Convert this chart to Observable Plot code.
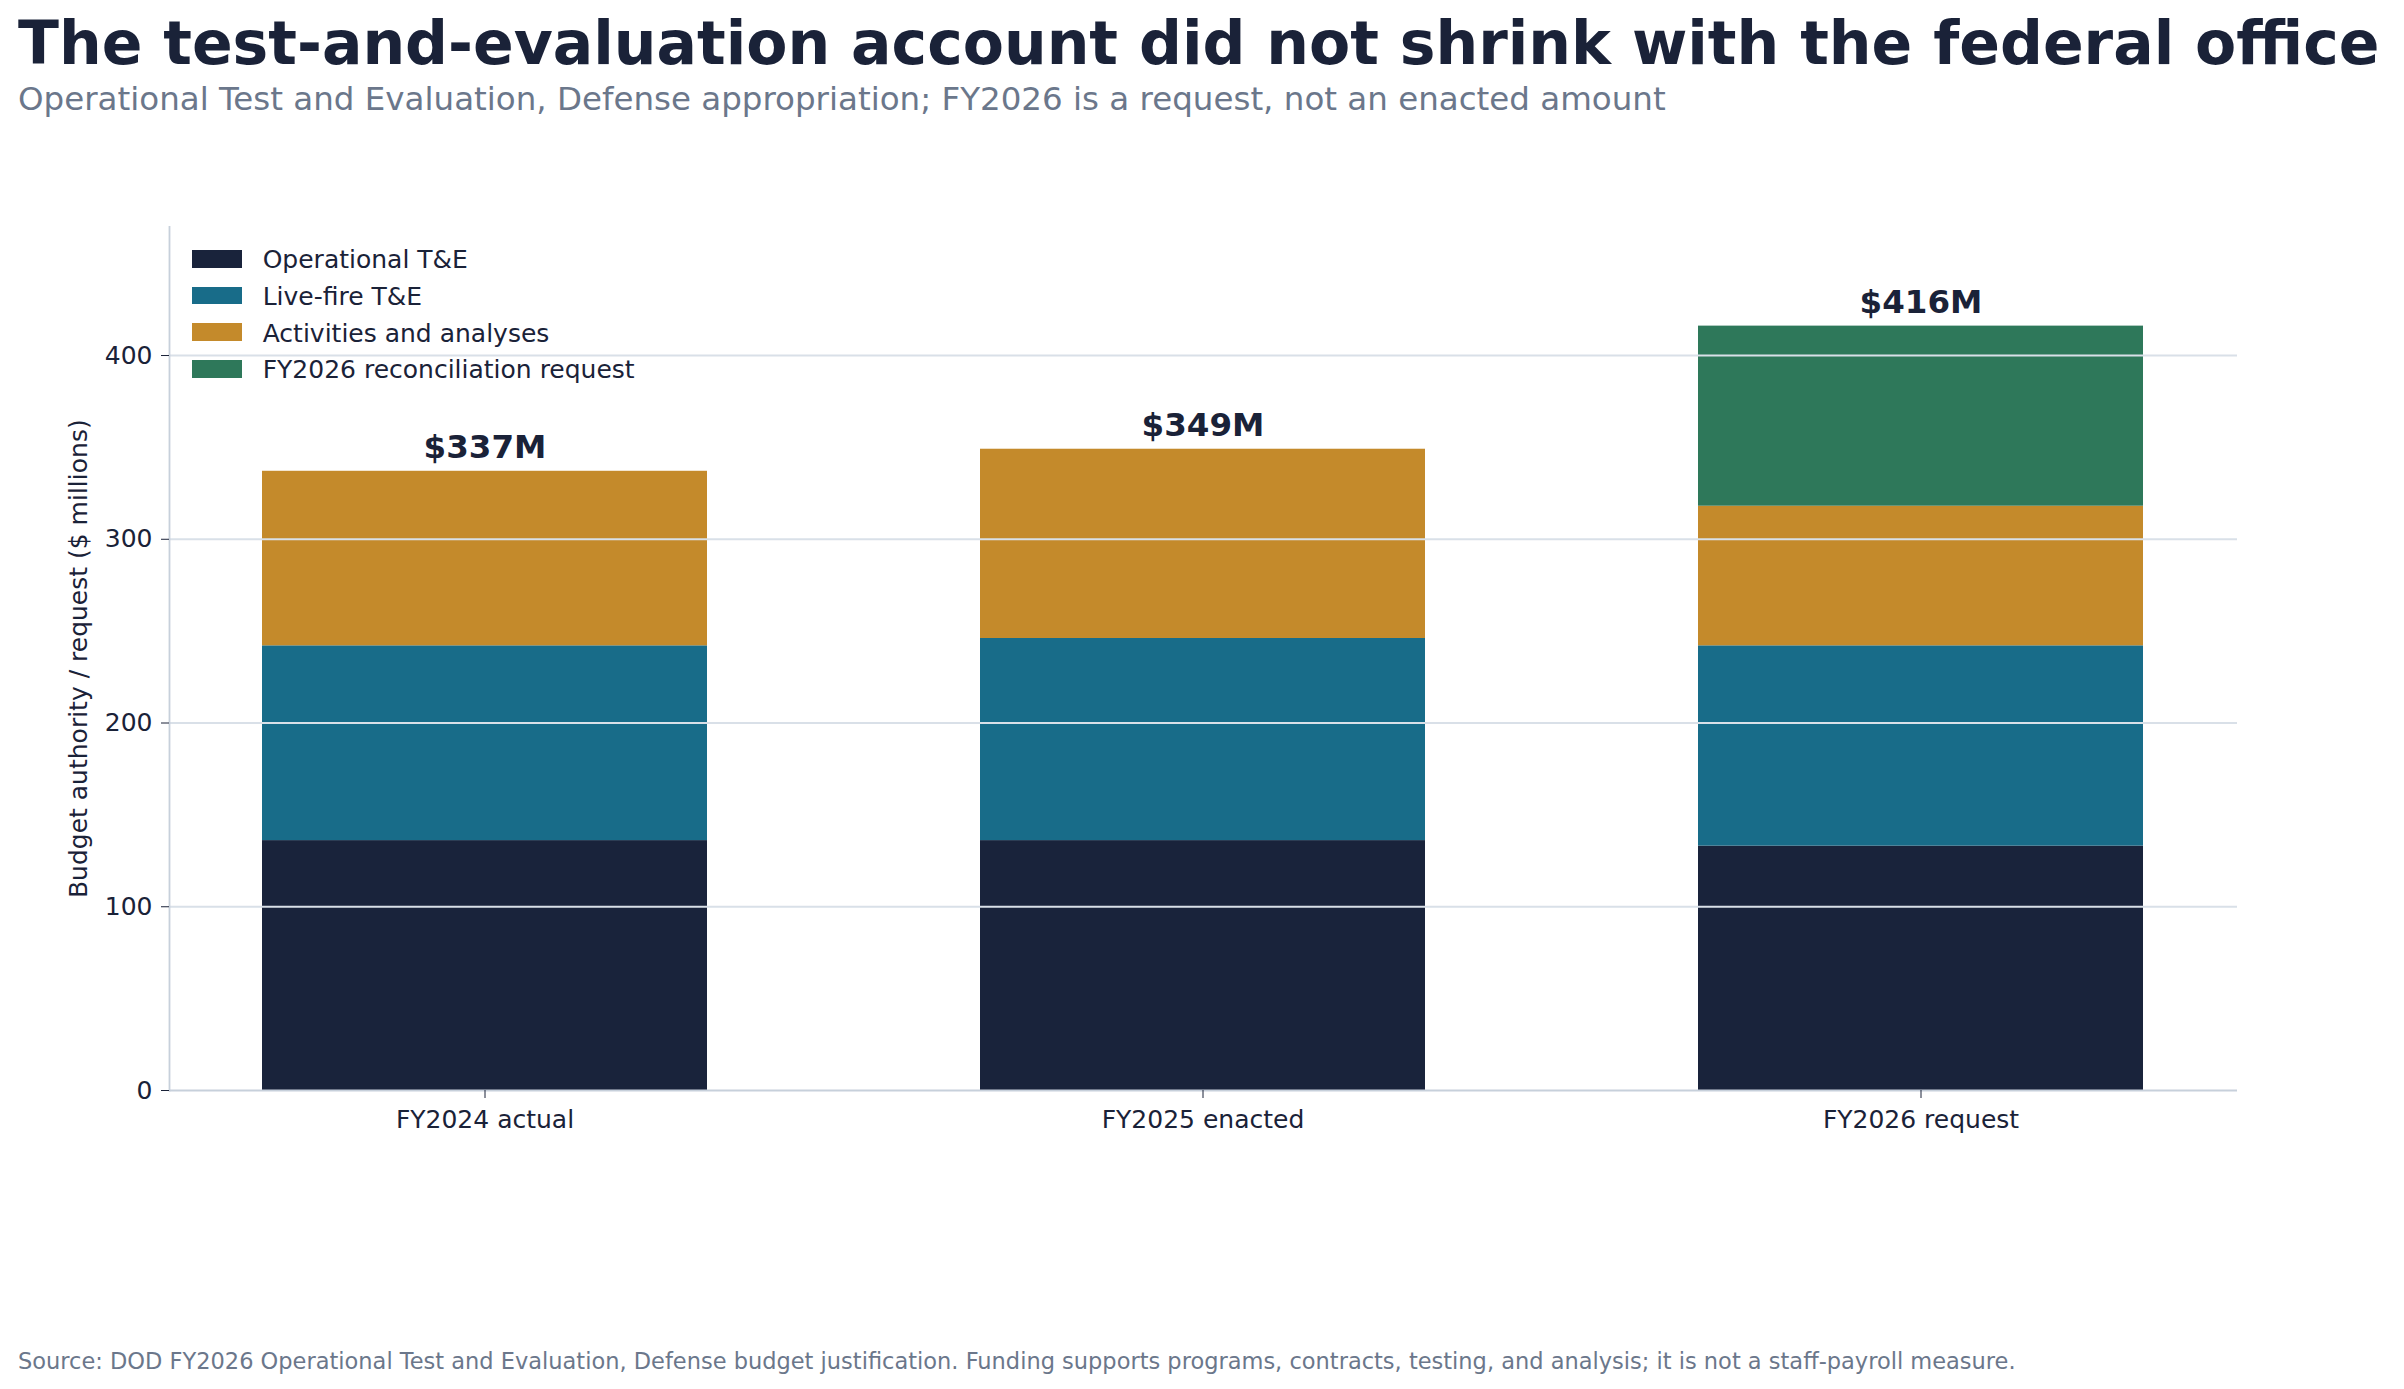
<!DOCTYPE html>
<html>
<head>
<meta charset="utf-8">
<script src="https://cdn.jsdelivr.net/npm/d3@7"></script>
<script src="https://cdn.jsdelivr.net/npm/@observablehq/plot@0.6"></script>
<style>
  html, body { margin: 0; padding: 0; background: #ffffff; }
  body { font-family: "DejaVu Sans", sans-serif; }
  #page { position: relative; width: 2404px; height: 1389px; overflow: hidden; background: #fff; }
  #title { position: absolute; left: 18px; top: 12.5px; font-size: 60px; font-weight: bold; line-height: 1; color: #1a2238; white-space: nowrap; }
  #subtitle { position: absolute; left: 18px; top: 83px; font-size: 32.5px; line-height: 1; color: #6b778b; white-space: nowrap; }
  #chart { position: absolute; left: 0; top: 150px; }
  #legend { position: absolute; left: 0; top: 0; }
  .sw { position: absolute; left: 192px; width: 50px; height: 17.7px; }
  .lt { position: absolute; left: 262.7px; font-size: 25px; line-height: 1; color: #1a2238; white-space: nowrap; }
  #caption { position: absolute; left: 18px; top: 1349.5px; font-size: 22.5px; line-height: 1; color: #6b778b; white-space: nowrap; }
</style>
</head>
<body>
<div id="page">
  <div id="title"></div>
  <div id="subtitle"></div>
  <div id="chart"></div>
  <div id="legend"></div>
  <div id="caption"></div>
</div>
<script>
// ---- Data ----
const years = ["FY2024 actual", "FY2025 enacted", "FY2026 request"];
const seriesNames = ["Operational T&E", "Live-fire T&E", "Activities and analyses", "FY2026 reconciliation request"];
const operational = [136, 136, 133];
const liveFire = [106, 110, 109];
const activities = [95, 103, 76];
const reconciliation = [0, 0, 98];
const seriesColors = ["#19233b", "#186c89", "#c48a2b", "#2e785a"];
const yTicks = [0, 100, 200, 300, 400];
const yMax = 470;

const titleText = "The test-and-evaluation account did not shrink with the federal office";
const subtitleText = "Operational Test and Evaluation, Defense appropriation; FY2026 is a request, not an enacted amount";
const yLabel = "Budget authority / request ($ millions)";
const captionText = "Source: DOD FY2026 Operational Test and Evaluation, Defense budget justification. Funding supports programs, contracts, testing, and analysis; it is not a staff-payroll measure.";

// ---- Build table ----
const seriesValues = [operational, liveFire, activities, reconciliation];
const rows = [];
years.forEach((yr, i) => {
  seriesNames.forEach((s, j) => {
    const v = seriesValues[j][i];
    if (v > 0) rows.push({year: yr, series: s, value: v});
  });
});
const totals = years.map((yr, i) => ({
  year: yr,
  total: seriesValues.reduce((acc, arr) => acc + arr[i], 0)
}));

document.getElementById("title").textContent = titleText;
document.getElementById("subtitle").textContent = subtitleText;
document.getElementById("caption").textContent = captionText;

const ink = "#1a2238";
const spine = "#c7d0db";
const grid = "#d9e0e8";

const chart = Plot.plot({
  width: 2404,
  height: 1050,
  marginTop: 76.4,
  marginBottom: 110,
  marginLeft: 169,
  marginRight: 167,
  style: {fontFamily: "DejaVu Sans", fontSize: "25px", color: ink, background: "transparent"},
  x: {domain: years, paddingInner: 0.38, paddingOuter: 0.13, align: 0.5},
  y: {domain: [0, yMax]},
  color: {domain: seriesNames, range: seriesColors},
  marks: [
    Plot.barY(rows, Plot.stackY({
      x: "year",
      y: "value",
      fill: "series",
      order: seriesNames
    })),
    Plot.ruleY(yTicks.filter(d => d > 0), {stroke: grid, strokeWidth: 2}),
    Plot.ruleY([0], {stroke: spine, strokeWidth: 1.8}),
    Plot.frame({anchor: "left", stroke: spine, strokeWidth: 1.8}),
    Plot.axisY({
      ticks: yTicks,
      tickSize: 8,
      tickPadding: 9,
      color: ink,
      fontSize: 25,
      label: yLabel,
      labelAnchor: "center",
      labelArrow: "none",
      labelOffset: 100
    }),
    Plot.axisX({
      tickSize: 8,
      tickPadding: 12,
      color: ink,
      fontSize: 25,
      label: null
    }),
    Plot.text(totals, {
      x: "year",
      y: "total",
      text: d => `$${d.total}M`,
      lineAnchor: "bottom",
      dy: -13.5,
      fontSize: 32.5,
      fontWeight: "bold",
      fill: ink
    })
  ]
});
document.getElementById("chart").appendChild(chart);

// ---- Legend (inside plot, upper-left) ----
const legend = document.getElementById("legend");
seriesNames.forEach((s, i) => {
  const sw = document.createElement("div");
  sw.className = "sw";
  sw.style.top = (250 + i * 36.7) + "px";
  sw.style.background = seriesColors[i];
  legend.appendChild(sw);
  const t = document.createElement("div");
  t.className = "lt";
  t.style.top = (247.2 + i * 36.7) + "px";
  t.textContent = s;
  legend.appendChild(t);
});
</script>
</body>
</html>
